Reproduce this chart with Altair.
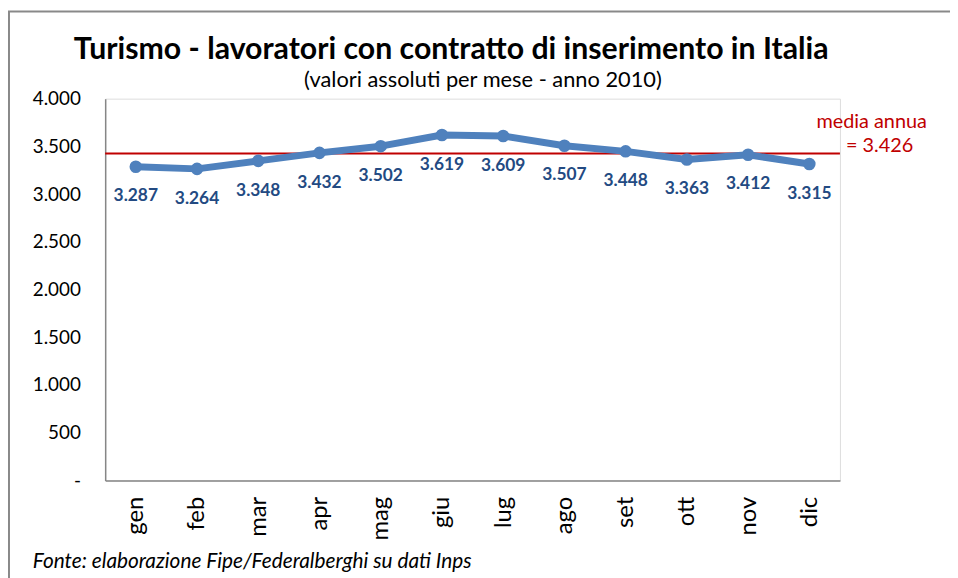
import altair as alt
import pandas as pd

FONT = "Lato"

months = ["gen", "feb", "mar", "apr", "mag", "giu", "lug", "ago", "set", "ott", "nov", "dic"]
values = [3287, 3264, 3348, 3432, 3502, 3619, 3609, 3507, 3448, 3363, 3412, 3315]
annual_mean = [3426]
y_ticks = [0, 500, 1000, 1500, 2000, 2500, 3000, 3500, 4000]

title_text = ["Turismo - lavoratori con contratto di inserimento in Italia"]
subtitle_text = ["(valori assoluti per mese - anno 2010)"]
source_text = ["Fonte: elaborazione Fipe/Federalberghi su dati Inps"]
mean_label = ["media annua"]


def fmt_it(v):
    return f"{v:,}".replace(",", ".")


df = pd.DataFrame({
    "mese": months,
    "valore": values,
    "etichetta": [fmt_it(v) for v in values],
})
mean_df = pd.DataFrame({"media": annual_mean, "testo": ["= " + fmt_it(annual_mean[0])], "t1": mean_label})
one = pd.DataFrame({"a": [0]})

W, H = 741, 385
BLUE = "#4F81BD"
LBL = "#234A82"
RED = "#C00000"
GRAY = "#868686"

x_scale = alt.Scale(type="point", padding=0.5)
x_enc = alt.X(
    "mese:N", sort=months, scale=x_scale,
    axis=alt.Axis(title=None, labelAngle=-90, labelAlign="right", labelBaseline="middle",
                  labelFontSize=24, labelPadding=16, labelFont=FONT, labelColor="black",
                  ticks=False, domainColor=GRAY, domainWidth=1.5, grid=False),
)
x_plain = alt.X("mese:N", sort=months, scale=x_scale)
y_enc = alt.Y(
    "valore:Q",
    scale=alt.Scale(domain=[0, 4000], nice=False, zero=True),
    axis=alt.Axis(title=None, values=y_ticks, grid=False, ticks=False,
                  labelExpr="datum.value == 0 ? '-' : replace(format(datum.value, ','), ',', '.')",
                  labelFontSize=19, labelFont=FONT, labelColor="black", labelPadding=25,
                  domainColor=GRAY, domainWidth=1.5),
)

base = alt.Chart(df)
line = base.mark_line(color=BLUE, strokeWidth=7, strokeJoin="round", strokeCap="round").encode(x=x_enc, y=y_enc)
pts = base.mark_circle(color=BLUE, opacity=1, size=160).encode(x=x_plain, y="valore:Q")
labels = base.mark_text(dy=30, font=FONT, fontSize=17.5, fontWeight="bold", color=LBL,
                        align="center", baseline="middle").encode(x=x_plain, y="valore:Q", text="etichetta:N")

mean_rule = alt.Chart(mean_df).mark_rule(color=RED, strokeWidth=2).encode(y="media:Q")
mean_t1 = alt.Chart(mean_df).mark_text(font=FONT, fontSize=20, color=RED, align="center",
                                       baseline="alphabetic", dy=-26).encode(
    x=alt.value(773), y="media:Q", text="t1:N")
mean_t2 = alt.Chart(mean_df).mark_text(font=FONT, fontSize=20, color=RED, align="center",
                                       baseline="alphabetic", dy=-1).encode(
    x=alt.value(781), y="media:Q", text="testo:N")

title = alt.Chart(pd.DataFrame({"t": title_text})).mark_text(
    font=FONT, fontSize=30.5, fontWeight="bold", color="black", align="center", baseline="alphabetic"
).encode(x=alt.value(349), y=alt.value(-40), text="t:N")
subtitle = alt.Chart(pd.DataFrame({"t": subtitle_text})).mark_text(
    font=FONT, fontSize=22, color="black", align="center", baseline="alphabetic"
).encode(x=alt.value(381), y=alt.value(-12), text="t:N")
source = alt.Chart(pd.DataFrame({"t": source_text})).mark_text(
    font=FONT, fontSize=21, fontStyle="italic", color="black", align="left", baseline="alphabetic"
).encode(x=alt.value(-73), y=alt.value(473), text="t:N")

border_left = alt.Chart(one).mark_rule(color="#898989", strokeWidth=2).encode(
    x=alt.value(-97), y=alt.value(-88), y2=alt.value(490))
border_top = alt.Chart(one).mark_rule(color="#898989", strokeWidth=2).encode(
    y=alt.value(-88), x=alt.value(-98), x2=alt.value(852))

chart = alt.layer(
    border_left, border_top, mean_rule, line, pts, labels, mean_t1, mean_t2, title, subtitle, source
).properties(
    width=W, height=H,
    autosize=alt.AutoSizeParams(type="none"),
    padding={"left": 98, "top": 89, "right": 111, "bottom": 96},
).configure_view(stroke=None).configure(background="white")

chart.save("out.html", embed_options={"renderer": "svg", "actions": False})
